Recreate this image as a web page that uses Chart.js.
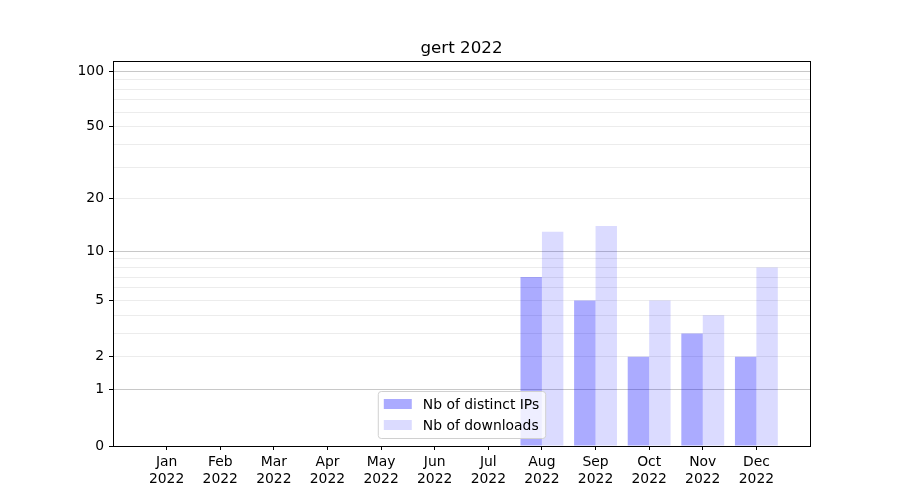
<!DOCTYPE html>
<html>
<head>
<meta charset="utf-8">
<script src="https://cdn.jsdelivr.net/npm/chart.js@4"></script>
<style>
  html, body { margin: 0; padding: 0; background: #fff; }
</style>
</head>
<body>
<canvas id="statsChart" width="900" height="500"></canvas>
<script>
// data
const months = ["Jan","Feb","Mar","Apr","May","Jun","Jul","Aug","Sep","Oct","Nov","Dec"];
const year = "2022";
const distinctIPs = [0,0,0,0,0,0,0,7,5,2,3,2];
const downloads = [0,0,0,0,0,0,0,13,14,5,4,8];
const yTicks = [0,1,2,3,4,5,6,7,8,9,10,20,30,40,50,60,70,80,90,100];
const yLabeled = [0,1,2,5,10,20,50,100];
const yMajor = [1,10,100];

// y scale drawn as log10(1 + v)
class Log1pScale extends Chart.LinearScale {
    static id = "log1p";
    static defaults = {};
    buildTicks() {
        return yTicks.filter(v => v >= this.min && v <= this.max).map(v => ({ value: v }));
    }
    getPixelForValue(value) {
        if (value === null || value === undefined) return NaN;
        const lo = Math.log10(1 + this.min), hi = Math.log10(1 + this.max);
        return this.getPixelForDecimal((Math.log10(1 + value) - lo) / (hi - lo));
    }
    getValueForPixel(pixel) {
        const lo = Math.log10(1 + this.min), hi = Math.log10(1 + this.max);
        return Math.pow(10, lo + this.getDecimalForPixel(pixel) * (hi - lo)) - 1;
    }
}
Chart.register(Log1pScale);

Chart.defaults.font.family = "DejaVu Sans";
Chart.defaults.font.size = 13.9;
Chart.defaults.color = "#000";

// padded with an empty slot at each end, like the axis limits of the picture
const labels = [""].concat(months.map(m => [m, year]), [""]);
const pad = arr => [null].concat(arr, [null]);

// frame, title and legend drawn inside the plot
const framePlugin = {
    id: "frame",
    afterDraw(chart) {
        const ctx = chart.ctx, a = chart.chartArea;
        ctx.save();
        ctx.strokeStyle = "#000";
        ctx.lineWidth = 1;
        ctx.strokeRect(Math.round(a.left) + 0.5, Math.round(a.top) + 0.5,
            Math.round(a.right - a.left), Math.round(a.bottom - a.top));

        ctx.fillStyle = "#000";
        ctx.font = "16.7px 'DejaVu Sans'";
        ctx.textAlign = "center";
        ctx.textBaseline = "alphabetic";
        ctx.fillText("gert 2022", (a.left + a.right) / 2, a.top - 8);

        // legend, lower center
        ctx.font = "13.9px 'DejaVu Sans'";
        const sets = chart.data.datasets;
        const textW = Math.max(...sets.map(d => ctx.measureText(d.label).width));
        const w = 6 + 28 + 11 + textW + 6;
        const rowH = 21;
        const h = 8 + rowH * sets.length - 3;
        const x = (a.left + a.right) / 2 - w / 2;
        const y = a.bottom - 8 - h;
        ctx.beginPath();
        ctx.roundRect(x + 0.5, y + 0.5, w, h, 3);
        ctx.fillStyle = "rgba(255,255,255,0.8)";
        ctx.fill();
        ctx.strokeStyle = "#d0d0d0";
        ctx.stroke();
        ctx.textAlign = "left";
        ctx.textBaseline = "middle";
        sets.forEach((d, i) => {
            const cy = y + 13 + i * rowH;
            ctx.fillStyle = d.backgroundColor;
            ctx.fillRect(x + 6, cy - 5, 28, 10);
            ctx.fillStyle = "#000";
            ctx.fillText(d.label, x + 45, cy + 1);
        });
        ctx.restore();
    }
};

new Chart(document.getElementById("statsChart"), {
    type: "bar",
    data: {
        labels: labels,
        datasets: [{
            label: "Nb of distinct IPs",
            data: pad(distinctIPs),
            backgroundColor: "rgba(0,0,255,0.33)"
        }, {
            label: "Nb of downloads",
            data: pad(downloads),
            backgroundColor: "rgba(0,0,255,0.14)"
        }]
    },
    options: {
        responsive: false,
        animation: false,
        devicePixelRatio: 1,
        layout: { padding: { top: 61, right: 90, bottom: 0, left: 0 } },
        datasets: { bar: { categoryPercentage: 0.8, barPercentage: 1.0 } },
        plugins: {
            legend: { display: false },
            title: { display: false },
            tooltip: { enabled: false }
        },
        scales: {
            x: {
                type: "category",
                offset: false,
                border: { color: "#000" },
                grid: {
                    offset: false,
                    drawOnChartArea: false,
                    tickLength: 4,
                    tickColor: c => (c.index === 0 || c.index === labels.length - 1) ? "rgba(0,0,0,0)" : "#000"
                },
                ticks: { autoSkip: false, maxRotation: 0, padding: 4, color: "#000" },
                afterFit: s => { s.height = 54; }
            },
            y: {
                type: "log1p",
                min: 0,
                max: 113.5,
                z: 1,
                border: { color: "#000" },
                grid: {
                    tickLength: 4,
                    color: c => {
                        const v = c.tick.value;
                        if (v === 0) return "rgba(0,0,0,0)";
                        return yMajor.includes(v) ? "#c8c8c8" : "#ececec";
                    },
                    tickColor: c => yLabeled.includes(c.tick.value) ? "#000" : "rgba(0,0,0,0)"
                },
                ticks: {
                    autoSkip: false,
                    padding: 5,
                    color: "#000",
                    callback: v => yLabeled.includes(v) ? String(v) : ""
                },
                afterFit: s => { s.width = 113; }
            }
        }
    },
    plugins: [framePlugin]
});
</script>
</body>
</html>
